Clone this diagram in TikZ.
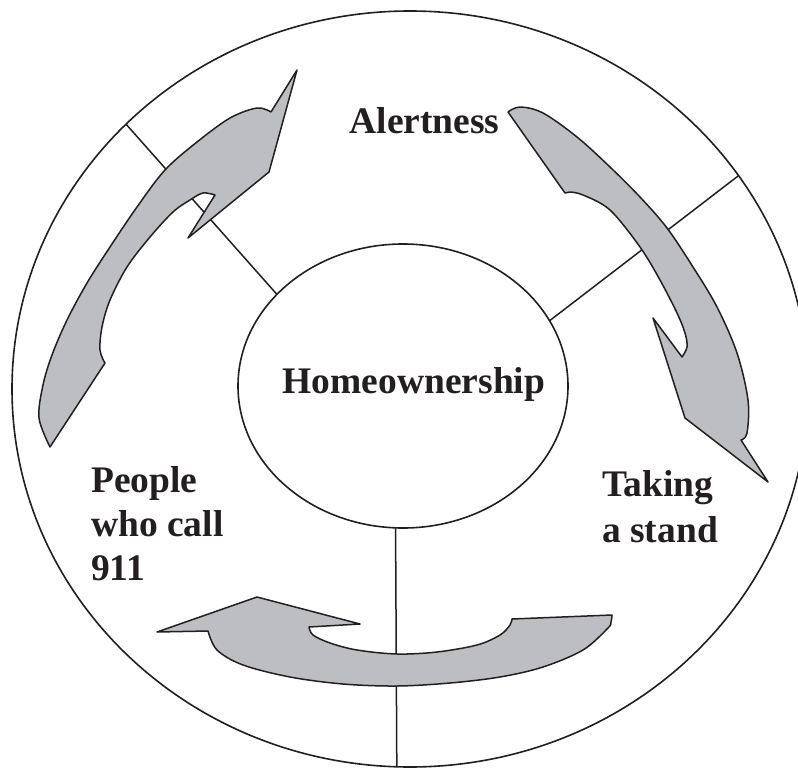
\documentclass[tikz,border=0pt]{standalone}
\usepackage{fontspec}
\setmainfont{Liberation Serif}
\usetikzlibrary{shapes.geometric}
\definecolor{arrowgray}{RGB}{189,190,193}
\definecolor{ink}{RGB}{35,31,32}
\begin{document}
\begin{tikzpicture}[x=1pt,y=-1pt,
  rimline/.style={draw=ink, line width=1.6pt},
  spoke/.style={draw=ink, line width=1.5pt},
  bigarrow/.style={fill=arrowgray, draw=ink, line width=1.5pt, line join=round},
  lbl/.style={font=\fontsize{37.5}{44}\selectfont\bfseries, inner sep=0pt, text=ink}]
\useasboundingbox (0,0) rectangle (798,768);
\clip (0,0) rectangle (798,768);
\fill[white] (0,0) rectangle (798,768);
\node[ellipse, rimline, minimum width=796pt, minimum height=756pt, inner sep=0pt, outer sep=0pt] (rim) at (410,389) {};
\node[ellipse, rimline, minimum width=330pt, minimum height=284pt, inner sep=0pt, outer sep=0pt] (hub) at (403,386) {};
% spokes
\draw[spoke] (hub.144.8) -- (rim.137.2);
\draw[spoke] (hub.24.5) -- (rim.33.3);
\draw[spoke] (hub.267.6) -- (rim.268);
% left arrow
\draw[bigarrow] plot[smooth, tension=0.55] coordinates {(50,447) (39,418) (43,385) (52,355) (67,320) (87,283) (110,247) (137,207) (165,170) (197,142) (230,118) (257,108) (271,112)} -- (297,70) -- (269,172) -- (188,238) -- plot[smooth, tension=0.55] coordinates {(215,195) (203,193) (190,200) (173,212) (150,237) (127,267) (110,300) (102,327) (100,350) (105,363)} -- cycle;
% right arrow
\draw[bigarrow] plot[smooth, tension=0.55] coordinates {(508,112) (520,107) (543,113) (577,137) (610,167) (640,197) (667,228) (693,267) (717,307) (737,353) (748,400) (747,433) (741,440)} -- (768,482) -- (685,418) -- (653,318) -- plot[smooth, tension=0.55] coordinates {(682,357) (687,347) (685,333) (677,313) (660,280) (640,247) (610,210) (583,195) (570,192)} -- (565,193) -- cycle;
% bottom arrow
\draw[bigarrow] (157,632) -- (257,597) -- (360,624) -- (309,627) -- plot[smooth, tension=0.55] coordinates {(309,627) (313,635) (330,643) (357,650) (397,654) (437,652) (477,645) (500,635) (510,625) (512,619)} -- (612,615) -- plot[smooth, tension=0.55] coordinates {(612,615) (611,622) (608,628) (583,650) (543,667) (500,677) (450,683) (397,686) (343,684) (290,677) (243,665) (217,650) (208,631)} -- cycle;
% labels
\node[lbl, anchor=base] (alert) at (424.5,133) {Alertness};
\node[lbl, anchor=base] (hometext) at (414,393) {Homeownership};
\node[lbl, anchor=base west] (people1) at (91,492) {People};
\node[lbl, anchor=base west] (people2) at (91,536) {who call};
\node[lbl, anchor=base west] (people3) at (91,580) {911};
\node[lbl, anchor=base west] (stand1) at (602,496) {Taking};
\node[lbl, anchor=base west] (stand2) at (602,542) {a stand};
\end{tikzpicture}
\end{document}
